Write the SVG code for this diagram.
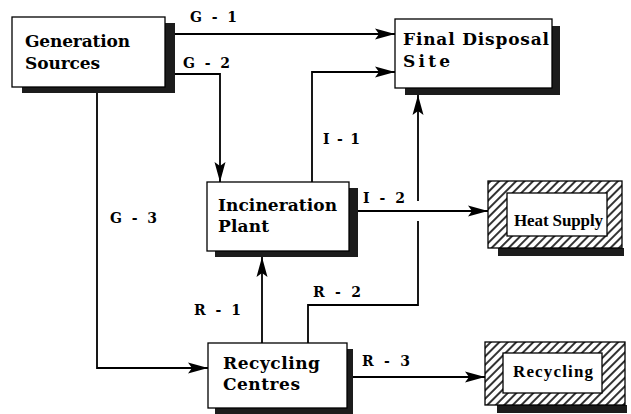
<svg xmlns="http://www.w3.org/2000/svg" width="631" height="414" viewBox="0 0 631 414">
<style>
.box{fill:#fff;stroke:#000;stroke-width:1.3}
.sh{fill:#1c1c1c}
.t{font-family:"DejaVu Serif","Liberation Serif",serif;font-weight:bold;font-size:17px;fill:#000}
.lb{font-family:"DejaVu Serif","Liberation Serif",serif;font-weight:bold;font-size:14px;fill:#000}
.t2{font-family:"Liberation Serif","Times New Roman",serif;font-weight:bold;font-size:17px;fill:#000}
.c{fill:none;stroke:#000;stroke-width:1.8}
.ca{fill:none;stroke:#000;stroke-width:1.8;marker-end:url(#ah)}
.hatch{fill:url(#hp);stroke:#000;stroke-width:1.3}
</style>
<defs>
<marker id="ah" markerUnits="userSpaceOnUse" markerWidth="22" markerHeight="14" refX="20" refY="6" orient="auto">
<path d="M0,0.5 L20,6 L0,11.5 L4,6 Z" fill="#000"/>
</marker>
<pattern id="hp" width="6" height="6" patternUnits="userSpaceOnUse" patternTransform="rotate(45)">
<rect width="6" height="6" fill="#fff"/>
<line x1="1" y1="0" x2="1" y2="6" stroke="#000" stroke-width="1.6"/>
</pattern>
</defs>

<g id="connectors">
<path class="ca" d="M175,34 H395"/>
<path class="ca" d="M175,74 H220 V182"/>
<path class="ca" d="M312,182 V72 H395"/>
<path class="ca" d="M97,93 V368 H208"/>
<path class="ca" d="M262,343 V257"/>
<path class="c" d="M308,343 V305 H418 V221"/>
<path class="ca" d="M418,201 V95"/>
<path class="ca" d="M358,211 H488"/>
<path class="ca" d="M353,377 H485"/>
<text class="lb" x="190" y="22" textLength="47">G - 1</text>
<text class="lb" x="183" y="68" textLength="47">G - 2</text>
<text class="lb" x="110" y="223" textLength="47">G - 3</text>
<text class="lb" x="323" y="144" textLength="37">I - 1</text>
<text class="lb" x="363" y="203" textLength="42">I - 2</text>
<text class="lb" x="194" y="315" textLength="47">R - 1</text>
<text class="lb" x="313" y="297" textLength="48">R - 2</text>
<text class="lb" x="362" y="366" textLength="48">R - 3</text>
</g>

<g id="generation-sources">
<path class="sh" d="M165,23 H175 V93 H22 V87 H165 Z"/>
<rect class="box" x="12" y="17" width="153" height="70"/>
<text class="t" x="25" y="47" textLength="105">Generation</text>
<text class="t" x="25" y="69" textLength="75">Sources</text>
</g>

<g id="final-disposal-site">
<path class="sh" d="M552,26 H560 V95 H405 V88 H552 Z"/>
<rect class="box" x="395" y="19" width="157" height="69"/>
<text class="t" x="403" y="45" textLength="146">Final Disposal</text>
<text class="t" x="403" y="67" textLength="47">Site</text>
</g>

<g id="incineration-plant">
<path class="sh" d="M349,188 H358 V257 H215 V251 H349 Z"/>
<rect class="box" x="207" y="182" width="142" height="69"/>
<text class="t" x="218" y="211" textLength="119">Incineration</text>
<text class="t" x="218" y="232" textLength="51">Plant</text>
</g>

<g id="recycling-centres">
<path class="sh" d="M347,349 H353 V414 H215 V408 H347 Z"/>
<rect class="box" x="208" y="343" width="139" height="65"/>
<text class="t" x="223" y="369" textLength="97">Recycling</text>
<text class="t" x="223" y="390" textLength="77">Centres</text>
</g>

<g id="heat-supply">
<rect class="sh" x="498" y="248" width="126" height="8"/>
<rect class="hatch" x="488" y="181" width="134" height="67"/>
<rect class="box" x="507" y="193" width="100" height="43"/>
<text class="t2" x="514" y="226" textLength="89">Heat Supply</text>
</g>

<g id="recycling">
<rect class="sh" x="497" y="405" width="130" height="8"/>
<rect class="hatch" x="485" y="342" width="140" height="63"/>
<rect class="box" x="503" y="353" width="99" height="40"/>
<text class="t2" x="513" y="377" textLength="80">Recycling</text>
</g>
</svg>
